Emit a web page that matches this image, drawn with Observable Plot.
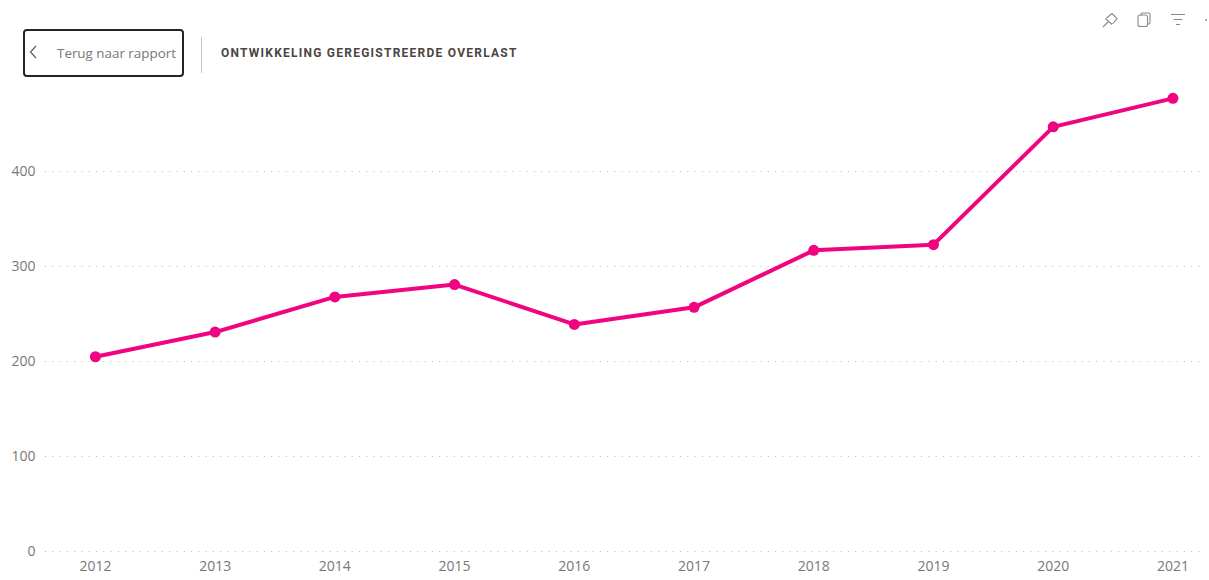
<!DOCTYPE html>
<html lang="nl">
<head>
<meta charset="utf-8">
<script src="https://cdn.jsdelivr.net/npm/d3@7"></script>
<script src="https://cdn.jsdelivr.net/npm/@observablehq/plot@0.6"></script>
<style>
html,body{margin:0;padding:0;background:#fff;width:1209px;height:580px;overflow:hidden}
#wrap{position:relative;width:1209px;height:580px}
#back{position:absolute;left:23px;top:29px;width:157px;height:44px;border:2px solid #252423;border-radius:4px;background:#fff}
#back span{position:absolute;left:32px;top:13px;font:13.4px "Open Sans",sans-serif;color:#7a7674;white-space:nowrap}
#back svg{position:absolute;left:2px;top:12px}
#sep{position:absolute;left:201px;top:37px;width:1px;height:36px;background:#c8c6c4}
#title{position:absolute;left:221px;top:46px;font:700 12px Roboto,sans-serif;letter-spacing:1.24px;color:#4a4543;white-space:nowrap}
#icons{position:absolute;left:1100px;top:10px}
#chart{position:absolute;left:0;top:0}
</style>
</head>
<body>
<div id="wrap">
  <div id="chart"></div>
  <div id="back">
    <svg width="14" height="18" viewBox="0 0 14 18"><path d="M9 3 L3.5 9 L9 15" fill="none" stroke="#605e5c" stroke-width="1.2"/></svg>
    <span>Terug naar rapport</span>
  </div>
  <div id="sep"></div>
  <div id="title">ONTWIKKELING GEREGISTREERDE OVERLAST</div>
  <svg id="icons" width="109" height="20" viewBox="0 0 109 20" fill="none" stroke="#8a8886" stroke-width="1.1">
    <path d="M3 17 L8 12 M5.5 8.5 L12 14.5 M6.5 8 L12 3.5 L17 8.5 L12.5 14"/>
    <path d="M41 5.5 v-1 a1.5 1.5 0 0 1 1.5 -1.5 h6 a1.5 1.5 0 0 1 1.5 1.5 v8 a1.5 1.5 0 0 1 -1.5 1.5 h-1"/>
    <rect x="38" y="5" width="9.5" height="11.5" rx="2"/>
    <path d="M71 4.5 H85 M73.5 9.5 H82.5 M76 14.5 H80"/>
    <circle cx="106" cy="10" r="0.9" fill="#8a8886" stroke="none"/>
  </svg>
</div>
<script>
const years = [2012, 2013, 2014, 2015, 2016, 2017, 2018, 2019, 2020, 2021];
const overlast = [205, 231, 268, 281, 239, 257, 317, 323, 447, 477];
const yTicks = [0, 100, 200, 300, 400];
const rows = years.map((year, i) => ({year, value: overlast[i]}));
const pink = "#f0047f";

const plot = Plot.plot({
  width: 1209,
  height: 580,
  marginLeft: 45,
  marginRight: 4,
  marginTop: 76,
  marginBottom: 29,
  style: {background: "transparent", fontFamily: '"Open Sans", sans-serif', fontSize: "14px", color: "#777"},
  x: {domain: [2011.583, 2021.272], label: null},
  y: {domain: [0, 500], label: null},
  marks: [
    Plot.ruleY(yTicks, {stroke: "#bdbbb8", strokeWidth: 1, strokeDasharray: "1 6.3", strokeOpacity: 1}),
    Plot.axisX(years, {tickSize: 0, tickPadding: 9.5, tickFormat: d => String(d), label: null, fontSize: 14, fill: "#777"}),
    Plot.axisY(yTicks, {tickSize: 0, tickPadding: 10, label: null, fontSize: 14, fill: "#777"}),
    Plot.line(rows, {x: "year", y: "value", stroke: pink, strokeWidth: 4, strokeLinejoin: "round"}),
    Plot.dot(rows, {x: "year", y: "value", r: 5.5, fill: pink})
  ]
});
document.getElementById("chart").appendChild(plot);
</script>
</body>
</html>
